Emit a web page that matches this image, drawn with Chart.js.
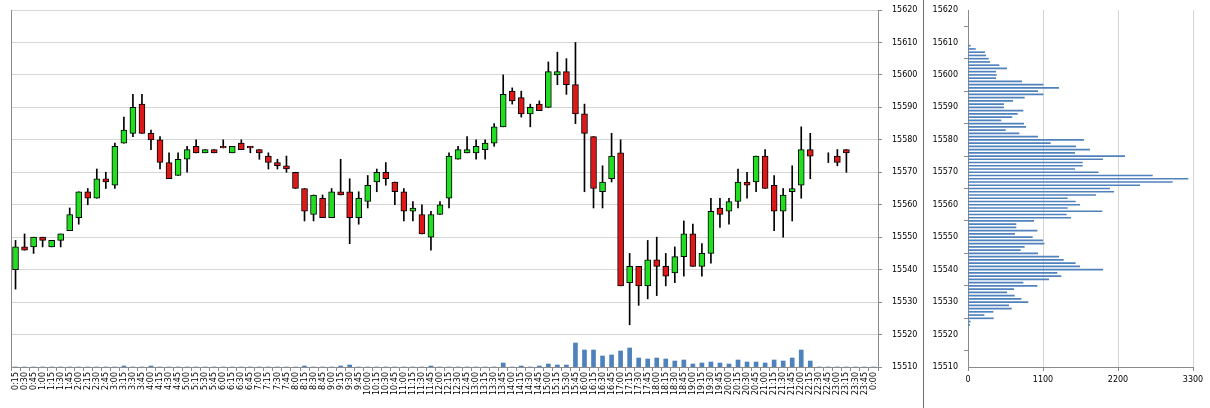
<!DOCTYPE html>
<html>
<head>
<meta charset="utf-8">
<script src="https://cdn.jsdelivr.net/npm/chart.js@4.4.1/dist/chart.umd.min.js"></script>
<style>
  html, body { margin: 0; padding: 0; background: #fff; }
  #wrap { position: relative; width: 1210px; height: 408px; overflow: hidden; }
  #left { position: absolute; left: 0; top: 0; width: 923px; height: 408px; }
  #sep { position: absolute; left: 923px; top: 0; width: 1px; height: 408px; background: #6e6e6e; }
  #right { position: absolute; left: 924px; top: 0; width: 286px; height: 408px; }
</style>
</head>
<body>
<div id="wrap">
  <div id="left"><canvas id="chart"></canvas></div>
  <div id="sep"></div>
  <div id="right"><canvas id="profile"></canvas></div>
</div>
<script>
// ===== DATEN =====
const times = [
  "0:15","0:30","0:45","1:00","1:15","1:30","1:45","2:00","2:15","2:30","2:45","3:00",
  "3:15","3:30","3:45","4:00","4:15","4:30","4:45","5:00","5:15","5:30","5:45","6:00",
  "6:15","6:30","6:45","7:00","7:15","7:30","7:45","8:00","8:15","8:30","8:45","9:00",
  "9:15","9:30","9:45","10:00","10:15","10:30","10:45","11:00","11:15","11:30","11:45","12:00",
  "12:15","12:30","12:45","13:00","13:15","13:30","13:45","14:00","14:15","14:30","14:45","15:00",
  "15:15","15:30","15:45","16:00","16:15","16:30","16:45","17:00","17:15","17:30","17:45","18:00",
  "18:15","18:30","18:45","19:00","19:15","19:30","19:45","20:00","20:15","20:30","20:45","21:00",
  "21:15","21:30","21:45","22:00","22:15","22:30","22:45","23:00","23:15","23:30","23:45","0:00"
];

const open = [
  15540,15547,15547,15550,15547,15549,15552,15556,15564,15562,15568,15566,
  15579,15582,15591,15582,15580,15573,15569,15574,15578,15576,15577,15578,
  15576,15579,15578,15577,15575,15573,15572,15570,15565,15557,15562,15556,
  15564,15564,15556,15561,15567,15570,15567,15564,15558,15557,15550,15557,
  15562,15574,15576,15576,15577,15579,15584,15595,15593,15588,15591,15590,
  15600,15601,15597,15588,15581,15564,15568,15576,15536,15541,15535,15543,
  15541,15539,15544,15551,15541,15545,15559,15558,15561,15567,15567,15575,
  15566,15558,15564,15566,15577,null,15575,15575,15577,null,null,null
];
const high = [
  15549,15551,15550,15550,15549,15551,15559,15564,15565,15571,15570,15579,
  15587,15594,15594,15583,15581,15576,15576,15578,15580,15577,15577,15580,
  15578,15580,15578,15577,15576,15574,15575,15570,15565,15563,15563,15565,
  15574,15568,15564,15569,15571,15573,15567,15565,15561,15560,15558,15561,
  15576,15578,15581,15580,15580,15585,15600,15596,15595,15591,15592,15604,
  15607,15605,15610,15591,15581,15572,15582,15580,15545,15541,15549,15550,
  15545,15547,15555,15554,15548,15562,15562,15562,15571,15570,15575,15577,
  15569,15565,15572,15584,15582,null,15576,15577,15577,null,null,null
];
const low = [
  15534,15546,15545,15547,15547,15547,15552,15554,15560,15562,15565,15565,
  15579,15581,15582,15577,15571,15568,15569,15570,15576,15576,15576,15577.5,
  15576,15577,15576,15574,15571,15571,15570,15565,15555,15555,15556,15556,
  15563,15548,15554,15559,15564,15566,15560,15555,15555,15551,15546,15557,
  15559,15574,15576,15574,15574,15578,15584,15591,15587,15584,15589,15590,
  15597,15594,15585,15564,15559,15559,15567,15535,15523,15529,15531,15532,
  15535,15536,15538,15541,15538,15542,15553,15554,15559,15562,15564,15565,
  15552,15550,15555,15562,15568,null,15573,15572,15570,null,null,null
];
const close = [
  15547,15546,15550,15549,15549,15551,15557,15564,15562,15568,15567,15578,
  15583,15590,15582,15580,15573,15568,15574,15577,15576,15577,15576,15577.5,
  15578,15577,15577.5,15576,15573,15572,15571,15565,15558,15563,15556,15564,
  15563,15556,15562,15566,15570,15568,15564,15558,15559,15551,15557,15560,
  15575,15577,15577,15578,15579,15584,15594,15592,15588,15590,15589,15601,
  15601,15597,15588,15582,15565,15567,15575,15535,15541,15535,15543,15541,
  15538,15544,15551,15541,15545,15558,15557,15561,15567,15566,15575,15565,
  15558,15563,15565,15577,15575,null,15575,15573,15576,null,null,null
];
const volume = [
  0,0,0,0,0,0,0,0,0,0,0,0,
  350,0,0,350,0,0,0,0,0,0,0,0,
  0,0,0,0,0,0,0,0,350,0,0,0,
  350,700,0,0,0,0,0,0,0,0,350,0,
  0,0,0,0,0,0,1400,0,350,0,350,1050,
  700,700,8400,5950,5950,3850,4200,5600,6650,3150,2800,3150,
  2800,2100,2450,1050,1400,1750,1400,1050,2450,1750,1750,1400,
  2450,2100,3150,5950,2100,0,0,0,0,0,0,0
];

// Volumenprofil
const profilePrices = [
  15523,15524,15525,15526,15527,15528,15529,15530,15531,15532,15533,15534,15535,15536,15537,
  15538,15539,15540,15541,15542,15543,15544,15545,15546,15547,15548,15549,15550,15551,15552,
  15553,15554,15555,15556,15557,15558,15559,15560,15561,15562,15563,15564,15565,15566,15567,
  15568,15569,15570,15571,15572,15573,15574,15575,15576,15577,15578,15579,15580,15581,15582,
  15583,15584,15585,15586,15587,15588,15589,15590,15591,15592,15593,15594,15595,15596,15597,
  15598,15599,15600,15601,15602,15603,15604,15605,15606,15607,15608,15609
];
const profileVolume = [
  24,34,372,235,367,636,596,880,777,680,567,670,1012,807,1183,
  1364,1305,1975,1638,1574,1398,1330,1022,768,826,1115,1095,944,684,1012,
  704,704,963,1506,1442,1965,1457,1638,1574,1457,1872,2137,2078,2518,2997,
  3227,2704,1911,1564,1677,1677,1975,2298,1564,1784,1579,1208,1696,1022,748,
  548,846,816,484,645,724,807,523,523,655,826,1100,1022,1330,1100,
  787,406,416,406,567,455,318,298,259,244,108,34
];

// ===== STIL =====
const FONT = { family: "DejaVu Sans", size: 8 };
const GRID = "#d6d6d6";
const AXIS = "#8a8a8a";
const GREEN = "#22dd22";
const RED = "#dd1818";
const BLUE = "#4f81bd";
const plain = v => String(v);

const bodies = times.map((t, i) => open[i] == null ? null : [open[i], close[i]]);
const wicks = times.map((t, i) => low[i] == null ? null : [low[i], high[i]]);
const bodyColors = times.map((t, i) => close[i] >= open[i] ? GREEN : RED);

// y-Achse: feste Breite, kein Zusatzrand oben/unten
function fixY(width) {
  return s => {
    s.width = width;
    s.paddingTop = 0;
    s.paddingBottom = 0;
  };
}

// linker Rahmen des Plotbereichs
const frame = {
  id: "frame",
  afterDraw(chart) {
    const a = chart.chartArea;
    const c = chart.ctx;
    c.save();
    c.strokeStyle = AXIS;
    c.lineWidth = 1;
    c.beginPath();
    c.moveTo(Math.round(a.left) + 0.5, a.top);
    c.lineTo(Math.round(a.left) + 0.5, a.bottom);
    c.stroke();
    c.restore();
  }
};

// ===== KERZENCHART =====
new Chart(document.getElementById("chart"), {
  type: "bar",
  data: {
    labels: times,
    datasets: [
      {
        label: "Kerze",
        data: bodies,
        backgroundColor: bodyColors,
        borderColor: "#000",
        borderWidth: 1,
        borderSkipped: false,
        barThickness: 6,
        grouped: false,
        order: 1,
        yAxisID: "y"
      },
      {
        label: "Docht",
        data: wicks,
        backgroundColor: "#000",
        barThickness: 1,
        grouped: false,
        order: 2,
        yAxisID: "y"
      },
      {
        label: "Volumen",
        data: volume,
        backgroundColor: BLUE,
        barThickness: 4,
        grouped: false,
        order: 3,
        yAxisID: "vol"
      }
    ]
  },
  options: {
    responsive: true,
    maintainAspectRatio: false,
    animation: false,
    layout: { padding: { left: 11, top: 10, right: 0, bottom: 0 } },
    plugins: { legend: { display: false }, tooltip: { enabled: false } },
    scales: {
      x: {
        offset: true,
        grid: { drawOnChartArea: false, drawTicks: true, tickLength: 4, color: AXIS, offset: true },
        border: { display: true, color: AXIS },
        ticks: { autoSkip: false, minRotation: 90, maxRotation: 90, padding: 1, color: "#000", font: FONT },
        afterFit: s => { s.height = 41; }
      },
      y: {
        position: "right",
        min: 15510,
        max: 15620,
        ticks: { stepSize: 10, padding: 10, color: "#000", font: FONT, callback: plain },
        grid: { color: GRID, tickColor: AXIS, tickLength: 4 },
        border: { display: true, color: AXIS },
        afterFit: fixY(45)
      },
      vol: {
        display: false,
        min: 0,
        max: 125000
      }
    }
  },
  plugins: [frame]
});

// ===== VOLUMENPROFIL =====
new Chart(document.getElementById("profile"), {
  type: "bar",
  data: {
    datasets: [{
      label: "Profil",
      data: profilePrices.map((p, i) => ({ x: profileVolume[i], y: p })),
      backgroundColor: BLUE,
      barThickness: 1
    }]
  },
  options: {
    indexAxis: "y",
    responsive: true,
    maintainAspectRatio: false,
    animation: false,
    layout: { padding: { left: 0, top: 10, right: 17, bottom: 0 } },
    plugins: { legend: { display: false }, tooltip: { enabled: false } },
    scales: {
      x: {
        type: "linear",
        min: 0,
        max: 3300,
        ticks: { stepSize: 1100, padding: 4, color: "#000", font: FONT, callback: plain },
        grid: { color: GRID, tickColor: AXIS, tickLength: 4 },
        border: { display: true, color: AXIS },
        afterFit: s => { s.height = 41; }
      },
      y: {
        type: "linear",
        offset: false,
        min: 15510,
        max: 15620,
        ticks: { stepSize: 10, padding: 6, color: "#000", font: FONT, callback: plain },
        grid: { drawOnChartArea: false, tickColor: AXIS, tickLength: 4 },
        border: { display: true, color: AXIS },
        afterFit: fixY(44)
      }
    }
  }
});
</script>
</body>
</html>
